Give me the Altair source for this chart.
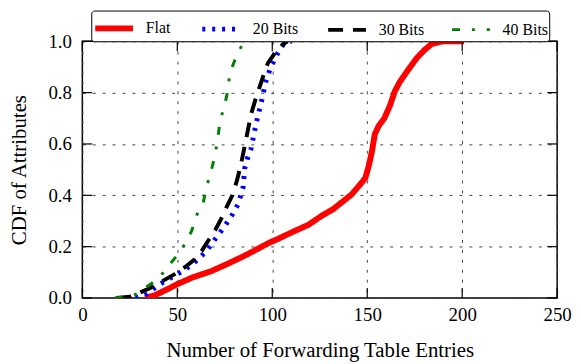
import altair as alt
import pandas as pd

series_names = ["Flat", "20 Bits", "30 Bits", "40 Bits"]

flat_x = [33, 38, 45, 50, 58, 68, 77, 85, 92, 98, 103, 110, 119, 126, 132, 137, 142, 146, 149, 151, 152.5, 154, 156, 159, 162, 164.5, 167, 171, 176, 180, 184, 190, 201]
flat_y = [0, 0.01, 0.035, 0.054, 0.08, 0.105, 0.135, 0.163, 0.19, 0.214, 0.23, 0.255, 0.285, 0.32, 0.346, 0.375, 0.405, 0.44, 0.467, 0.52, 0.572, 0.638, 0.67, 0.70, 0.75, 0.805, 0.84, 0.883, 0.934, 0.965, 0.99, 1.0, 1.0]

b20_x = [28, 33, 40, 47, 54, 60, 65, 70, 75, 79, 82, 84.6, 85.5, 87, 88.8, 91.4, 94, 96.7, 99, 102.6, 106, 110]
b20_y = [0, 0.01, 0.05, 0.08, 0.11, 0.145, 0.18, 0.23, 0.28, 0.325, 0.365, 0.43, 0.505, 0.545, 0.58, 0.677, 0.755, 0.845, 0.895, 0.95, 0.99, 1.0]

b30_x = [18, 25, 30, 36, 42, 48.6, 54, 59, 63, 66, 70, 73, 76, 79, 81.5, 83.5, 86, 88.8, 91, 93.5, 95.5, 97.7, 101, 104, 106, 108]
b30_y = [0, 0.005, 0.02, 0.04, 0.065, 0.093, 0.12, 0.15, 0.185, 0.22, 0.265, 0.307, 0.355, 0.40, 0.46, 0.52, 0.61, 0.715, 0.77, 0.825, 0.87, 0.915, 0.95, 0.975, 0.99, 1.0]

b40_x = [17, 25, 30, 33, 40, 44.4, 49.6, 54, 57.5, 60, 63.6, 65.3, 68, 70, 72.6, 75, 76.7, 77.6, 80.7, 84.4, 86]
b40_y = [0, 0.005, 0.02, 0.04, 0.074, 0.117, 0.163, 0.21, 0.26, 0.32, 0.37, 0.43, 0.50, 0.56, 0.69, 0.755, 0.81, 0.875, 0.934, 0.99, 1.0]

x_ticks = [0, 50, 100, 150, 200, 250]
y_ticks = [0.0, 0.2, 0.4, 0.6, 0.8, 1.0]

rows = []
for name, xs, ys in zip(series_names, [flat_x, b20_x, b30_x, b40_x], [flat_y, b20_y, b30_y, b40_y]):
    for i, (a, b) in enumerate(zip(xs, ys)):
        rows.append({"series": name, "x": a, "y": b, "order": i})
df = pd.DataFrame(rows)

W, H = 479, 259
FONT = "Liberation Serif"

xscale = alt.Scale(domain=[0, 250], nice=False, zero=False)
yscale = alt.Scale(domain=[0, 1], nice=False)

colors = ["#ff0000", "#0000ff", "#000000", "#008000"]
dashes = [[1, 0], [3, 7], [15, 10], [8, 12, 3, 12]]
widths = [6, 3, 5, 5]

lines = alt.Chart(df).mark_line(clip=True).encode(
    x=alt.X("x:Q", scale=xscale,
            axis=alt.Axis(values=x_ticks, title="Number of Forwarding Table Entries",
                          ticks=False, domain=False, labelPadding=8, labelFlush=False,
                          labelFont=FONT, labelFontSize=19,
                          grid=True, gridDash=[3, 7], gridColor="#444", gridWidth=1,
                          titleX=W / 2, titleY=59, titleBaseline="alphabetic")),
    y=alt.Y("y:Q", scale=yscale,
            axis=alt.Axis(values=y_ticks, format=".1f", title="CDF of Attributes",
                          ticks=False, domain=False, labelPadding=11, labelFlush=False,
                          labelFont=FONT, labelFontSize=19,
                          grid=True, gridDash=[3, 7], gridColor="#444", gridWidth=1,
                          titleX=-57, titleY=H / 2, titleBaseline="alphabetic")),
    color=alt.Color("series:N", scale=alt.Scale(domain=series_names, range=colors),
                    legend=alt.Legend(title=None, orient="none", direction="horizontal",
                                      legendX=9, legendY=-31, columns=4,
                                      strokeColor="black", cornerRadius=3, padding=1,
                                      fillColor="white",
                                      symbolType="M-1,0H1.72", symbolSize=784,
                                      labelFont=FONT, labelFontSize=16, labelColor="black",
                                      labelFontWeight="normal",
                                      labelOffset=20, columnPadding=22)),
    strokeDash=alt.StrokeDash("series:N", scale=alt.Scale(domain=series_names, range=dashes)),
    strokeWidth=alt.StrokeWidth("series:N", scale=alt.Scale(domain=series_names, range=widths)),
    order="order:Q",
)

xt = pd.DataFrame({"t": x_ticks})
yt = pd.DataFrame({"t": y_ticks})
TL = 10
bottom_ticks = alt.Chart(xt).mark_rule(color="black", strokeWidth=1.2).encode(
    x=alt.X("t:Q", scale=xscale), y=alt.value(H), y2=alt.value(H - TL))
top_ticks = alt.Chart(xt).mark_rule(color="black", strokeWidth=1.2).encode(
    x=alt.X("t:Q", scale=xscale), y=alt.value(0), y2=alt.value(TL))
left_ticks = alt.Chart(yt).mark_rule(color="black", strokeWidth=1.2).encode(
    y=alt.Y("t:Q", scale=yscale), x=alt.value(0), x2=alt.value(TL))
right_ticks = alt.Chart(yt).mark_rule(color="black", strokeWidth=1.2).encode(
    y=alt.Y("t:Q", scale=yscale), x=alt.value(W), x2=alt.value(W - TL))

chart = alt.layer(lines, bottom_ticks, top_ticks, left_ticks, right_ticks).properties(
    width=W, height=H,
    autosize=alt.AutoSizeParams(type="none"),
    padding={"left": 75, "top": 32, "right": 16, "bottom": 64},
).configure(
    font=FONT
).configure_view(
    stroke="black", strokeWidth=1.5
).configure_axis(
    labelFont=FONT, labelFontSize=19, labelColor="black",
    titleFont=FONT, titleFontSize=21, titleColor="black", titleFontWeight="normal",
).configure_legend(
    labelFont=FONT, labelFontSize=16, labelFontWeight="normal",
)

chart.save("out.html", embed_options={"renderer": "svg", "actions": False})
